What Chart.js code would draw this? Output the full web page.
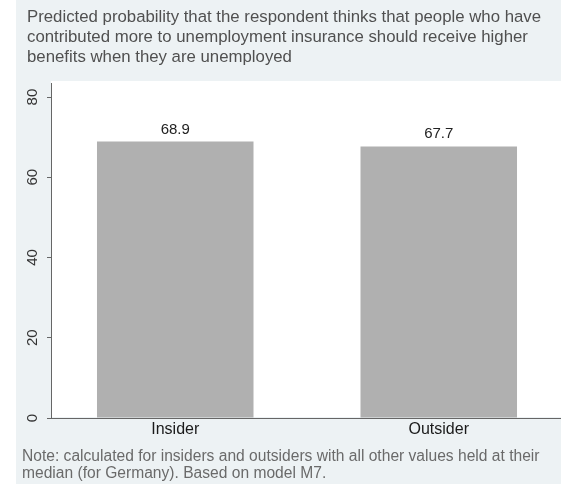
<!DOCTYPE html>
<html>
<head>
<meta charset="utf-8">
<script src="https://cdn.jsdelivr.net/npm/chart.js@4.4.1/dist/chart.umd.min.js"></script>
<style>
  html, body { margin: 0; padding: 0; background: #fff; }
  #page { position: relative; width: 561px; height: 484px; overflow: hidden; font-family: "Liberation Sans", Arial, sans-serif; }
  #bg { position: absolute; left: 16px; top: 0; right: 0; bottom: 0; background: #edf2f4; }
  #plot { position: absolute; left: 51px; top: 81px; width: 510px; height: 336px; background: #fff; }
  #title { position: absolute; left: 27px; top: 7px; font-size: 16.8px; line-height: 20px; color: #505050; white-space: nowrap; }
  #note { position: absolute; left: 22px; top: 447px; font-size: 15.6px; line-height: 17px; color: #6a6a6a; white-space: nowrap; }
  canvas { position: absolute; left: 0; top: 0; }
</style>
</head>
<body>
<div id="page">
  <div id="bg"></div>
  <div id="plot"></div>
  <canvas id="myChart" width="561" height="484"></canvas>
  <div id="title">Predicted probability that the respondent thinks that people who have<br>contributed more to unemployment insurance should receive higher<br>benefits when they are unemployed</div>
  <div id="note">Note: calculated for insiders and outsiders with all other values held at their<br>median (for Germany). Based on model M7.</div>
</div>
<script>
"use strict";

const categories = ["Insider", "Outsider"];
const probabilities = [68.9, 67.7];
const yTicks = [0, 20, 40, 60, 80];

const FONT = "'Liberation Sans', Arial, sans-serif";

// Value labels over the bars, category labels and rotated y tick labels (Stata style)
const annotate = {
  id: "annotate",
  afterDatasetsDraw(chart) {
    const ctx = chart.ctx;
    const meta = chart.getDatasetMeta(0);
    ctx.save();
    ctx.font = "15px " + FONT;
    ctx.textAlign = "center";
    ctx.fillStyle = "#222";
    ctx.textBaseline = "alphabetic";
    meta.data.forEach((bar, i) => {
      ctx.fillText(probabilities[i].toFixed(1), bar.x, bar.y - 8);
    });

    const x = chart.scales.x;
    ctx.font = "16px " + FONT;
    ctx.fillStyle = "#1a1a1a";
    categories.forEach((c, i) => {
      ctx.fillText(c, x.getPixelForValue(i), chart.chartArea.bottom + 16);
    });

    const y = chart.scales.y;
    ctx.font = "15px " + FONT;
    ctx.fillStyle = "#333";
    ctx.textBaseline = "middle";
    y.ticks.forEach(t => {
      ctx.save();
      ctx.translate(33, y.getPixelForValue(t.value));
      ctx.rotate(-Math.PI / 2);
      ctx.fillText(String(t.value), 0, 0);
      ctx.restore();
    });
    ctx.restore();
  }
};

const ctx = document.getElementById("myChart").getContext("2d");

new Chart(ctx, {
  type: "bar",
  data: {
    datasets: [
      {
        data: probabilities.map((v, i) => ({ x: i, y: v })),
        backgroundColor: "#b0b0b0",
        borderWidth: 0,
        categoryPercentage: 1,
        barPercentage: 0.594
      }
    ]
  },
  options: {
    responsive: false,
    animation: false,
    layout: {
      padding: { left: 47, top: 83, right: 0, bottom: 58 }
    },
    plugins: {
      legend: { display: false },
      tooltip: { enabled: false }
    },
    scales: {
      x: {
        type: "linear",
        offset: false,
        min: -0.4715,
        max: 1.4639,
        afterBuildTicks: scale => {
          scale.ticks = categories.map((c, i) => ({ value: i }));
        },
        ticks: { display: false },
        grid: { display: false },
        border: { display: true, color: "#666", width: 1 }
      },
      y: {
        min: 0,
        max: 83.5,
        afterBuildTicks: scale => {
          scale.ticks = yTicks.map(v => ({ value: v }));
        },
        ticks: { display: false },
        grid: {
          drawOnChartArea: false,
          drawTicks: true,
          tickLength: 4,
          tickColor: "#666"
        },
        border: { display: true, color: "#666", width: 1 }
      }
    }
  },
  plugins: [annotate]
});
</script>
</body>
</html>
